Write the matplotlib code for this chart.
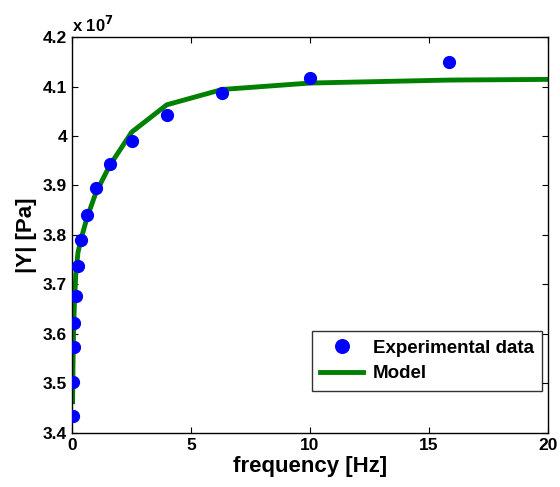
import matplotlib
matplotlib.use('Agg')
import matplotlib.pyplot as plt
from matplotlib.ticker import FuncFormatter

plt.rcParams['font.family'] = ['Liberation Sans', 'DejaVu Sans']
plt.rcParams['font.weight'] = 'bold'

# measured frequencies and |Y| (Pa)
freq_exp = [0.0251, 0.0398, 0.0631, 0.1, 0.158, 0.251, 0.398, 0.631,
            1.0, 1.58, 2.51, 3.98, 6.31, 10.0, 15.85]
y_exp = [3.434e7, 3.503e7, 3.574e7, 3.623e7, 3.677e7, 3.738e7, 3.789e7, 3.841e7,
         3.894e7, 3.943e7, 3.989e7, 4.042e7, 4.086e7, 4.117e7, 4.149e7]

# model curve
freq_model = [0.0251, 0.0398, 0.0631, 0.1, 0.158, 0.251, 0.398, 0.631,
              1.0, 1.58, 2.51, 3.98, 6.31, 10.0, 15.85, 25.1]
y_model = [3.463e7, 3.53e7, 3.60e7, 3.66e7, 3.72e7, 3.765e7, 3.795e7, 3.835e7,
           3.885e7, 3.94e7, 4.008e7, 4.063e7, 4.094e7, 4.107e7, 4.113e7, 4.116e7]

scale = 1e7

fig = plt.figure(figsize=(5.6, 4.87), dpi=100)
ax = fig.add_axes([0.1286, 0.111, 0.85, 0.813])

ax.plot(freq_exp, [v / scale for v in y_exp], 'o', color='blue', markersize=8.5,
        label='Experimental data', zorder=3)
ax.plot(freq_model, [v / scale for v in y_model], '-', color='green', linewidth=3.5,
        label='Model', zorder=2)

ax.set_xlim(0, 20)
ax.set_ylim(3.4, 4.2)
ax.set_xticks([0, 5, 10, 15, 20])
ax.set_yticks([3.4, 3.5, 3.6, 3.7, 3.8, 3.9, 4.0, 4.1, 4.2])
ax.yaxis.set_major_formatter(FuncFormatter(lambda v, p: '%g' % round(v, 2)))
ax.tick_params(direction='in', top=True, right=True, labelsize=12.5, length=4, width=0.8)
for s in ax.spines.values():
  s.set_linewidth(1.0)

ax.set_xlabel('frequency [Hz]', fontsize=16, fontweight='bold', labelpad=2)
ax.set_ylabel('|Y| [Pa]', fontsize=16, fontweight='bold', labelpad=4)
ax.text(0.0, 1.005, r'x 10$^{7}$', transform=ax.transAxes, fontsize=12,
        fontweight='bold', ha='left', va='bottom')

leg = ax.legend(loc='lower right', bbox_to_anchor=(0.988, 0.107), borderaxespad=0,
                fontsize=13.5, frameon=True, fancybox=False, edgecolor='black',
                borderpad=0.45, handlelength=2.3, handletextpad=0.5,
                labelspacing=0.45, markerscale=1.15)
leg.get_frame().set_linewidth(1.0)
for t in leg.get_texts():
  t.set_fontweight('bold')

fig.savefig('out.png', dpi=100)
